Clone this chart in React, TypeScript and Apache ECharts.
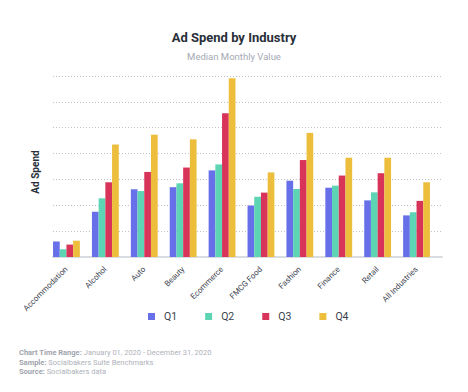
import React, { useEffect, useRef } from "react";
import * as echarts from "echarts";

const categories = ["Accommodation", "Alcohol", "Auto", "Beauty", "Ecommerce", "FMCG Food", "Fashion", "Finance", "Retail", "All Industries"];
const q1 = [0.60, 1.75, 2.62, 2.70, 3.35, 1.99, 2.95, 2.68, 2.19, 1.61];
const q2 = [0.30, 2.27, 2.55, 2.85, 3.58, 2.33, 2.63, 2.76, 2.50, 1.73];
const q3 = [0.48, 2.89, 3.29, 3.46, 5.56, 2.49, 3.75, 3.15, 3.24, 2.17];
const q4 = [0.63, 4.35, 4.73, 4.55, 6.91, 3.27, 4.80, 3.84, 3.84, 2.89];
const seriesNames = ["Q1", "Q2", "Q3", "Q4"];
const colors = ["#6770e8", "#5dd5b5", "#d8345a", "#ecbe3c"];

const FONT = "Roboto";

export default function App() {
  const ref = useRef<HTMLDivElement>(null);
  useEffect(() => {
    if (!ref.current) return;
    const chart = echarts.init(ref.current, null, { renderer: "svg" });
    const values = [q1, q2, q3, q4];
    chart.setOption({
      animation: false,
      backgroundColor: "#ffffff",
      textStyle: { fontFamily: FONT },
      title: {
        text: "Ad Spend by Industry",
        subtext: "Median Monthly Value",
        left: "center",
        top: 26,
        itemGap: 7,
        textStyle: { fontFamily: FONT, fontSize: 13, fontWeight: "bold", color: "#2a2f3a" },
        subtextStyle: { fontFamily: FONT, fontSize: 9.5, color: "#a4a9b3" },
      },
      legend: {
        data: seriesNames,
        left: 143,
        top: 306,
        icon: "rect",
        itemWidth: 7,
        itemHeight: 7,
        itemGap: 28,
        textStyle: { fontFamily: FONT, fontSize: 10.5, color: "#3a3f4b", padding: [0, 0, 0, 4] },
      },
      grid: [
        { left: 47, right: 32, top: 76, bottom: 135 },
        { left: 53, right: 26, top: 76, bottom: 135 },
      ],
      xAxis: [
        {
          type: "category",
          gridIndex: 0,
          data: categories,
          axisLine: { show: false },
          axisTick: { show: false },
          axisLabel: { rotate: 45, fontSize: 8, color: "#3d4350", margin: 11, interval: 0, fontFamily: FONT },
        },
        {
          type: "category",
          gridIndex: 1,
          data: categories,
          axisLine: { show: true, lineStyle: { color: "#d9dce1", width: 2 } },
          axisTick: { show: false },
          axisLabel: { show: false },
        },
      ],
      yAxis: [
        {
          type: "value",
          gridIndex: 0,
          min: 0,
          max: 7,
          interval: 1,
          axisLabel: { show: false },
          axisLine: { show: false },
          axisTick: { show: false },
          splitLine: { show: false },
        },
        {
          type: "value",
          gridIndex: 1,
          min: 0,
          max: 7,
          interval: 1,
          axisLabel: { show: false },
          axisLine: { show: false },
          axisTick: { show: false },
          splitLine: { show: true, lineStyle: { color: "#bfc3c9", type: [1, 2], width: 1 } },
        },
      ],
      graphic: [
        {
          type: "text",
          x: 35,
          y: 172,
          rotation: Math.PI / 2,
          style: {
            text: "Ad Spend",
            fontFamily: FONT,
            fontSize: 10,
            fontWeight: "bold",
            fill: "#2a2f3a",
            align: "center",
            verticalAlign: "middle",
          },
        },
        {
          type: "text",
          left: 19,
          top: 348,
          style: {
            text: "{b|Chart Time Range:} {n|January 01, 2020 - December 31, 2020}\n{b|Sample:} {n|Socialbakers Suite Benchmarks}\n{b|Source:} {n|Socialbakers data}",
            fontFamily: FONT,
            fontSize: 7.5,
            lineHeight: 9.5,
            fill: "#a7abb4",
            rich: {
              b: { fontFamily: FONT, fontSize: 7.5, fontWeight: "bold", fill: "#a0a4ad", lineHeight: 9.5 },
              n: { fontFamily: FONT, fontSize: 7.5, fill: "#aeb2ba", lineHeight: 9.5 },
            },
          },
        },
      ],
      series: seriesNames.map((name, i) => ({
        name,
        type: "bar",
        xAxisIndex: 0,
        yAxisIndex: 0,
        data: values[i],
        barGap: "0%",
        barCategoryGap: "31%",
        itemStyle: { color: colors[i] },
        z: 3,
      })),
    });
    return () => chart.dispose();
  }, []);
  return <div ref={ref} style={{ position: "fixed", left: 0, top: 0, width: 468, height: 392 }} />;
}
